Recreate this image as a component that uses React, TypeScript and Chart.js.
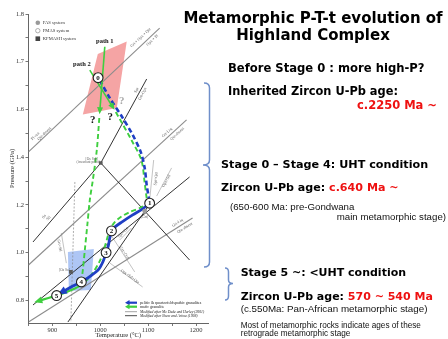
import React, { useEffect, useRef } from "react";
import { Chart, registerables } from "chart.js";

Chart.register(...registerables);

// ---------- axes ----------
const xMin = 850;
const xMax = 1225;
const yMin = 0.705;
const yMax = 2.0;
const xTickValues = [850, 900, 950, 1000, 1050, 1100, 1150, 1200];
const xMajorValues = [900, 1000, 1100, 1200];
const xMajorLabels = ["900", "1000", "1100", "1200"];
const yTickValues = [0.8, 0.9, 1.0, 1.1, 1.2, 1.3, 1.4, 1.5, 1.6, 1.7, 1.8, 1.9, 2.0];
const yMajorValues = [0.8, 1.0, 1.2, 1.4, 1.6, 1.8, 2.0];
const yMajorLabels = ["0.8", "1.0", "1.2", "1.4", "1.6", "1.7", "1.8"];

// ---------- P-T path stages ----------
const stageLabels = ["0", "1", "2", "3", "4", "5"];
const stageT = [995.4, 1103.1, 1023.3, 1012.1, 960.4, 908.75];
const stageP = [1.733, 1.207, 1.091, 1.0, 0.877, 0.82];

// pelitic & quartzofeldspathic granulites (blue)
const blueDashedT = [999, 1019.8, 1046.9, 1067.7, 1084.4, 1092.7, 1096.9, 1101, 1103.1];
const blueDashedP = [1.723, 1.648, 1.564, 1.493, 1.422, 1.355, 1.283, 1.233, 1.207];
const blueSolidT = [1103.1, 1088.5, 1067.7, 1044.8, 1030.2, 1023.3, 1019.8, 1016.7, 1012.1, 1006.2, 996.9, 982.3, 963.5, 942.7, 918.8];
const blueSolidP = [1.207, 1.183, 1.158, 1.128, 1.107, 1.091, 1.061, 1.028, 1.0, 0.965, 0.931, 0.906, 0.881, 0.86, 0.833];

// mafic granulite (green): path 1 and path 2
const path1SolidT = [1009.4, 999];
const path1SolidP = [1.863, 1.594];
const path1DashedT = [997.9, 992.7, 984.4, 978.1, 972.9, 967.7, 963.5, 960.4];
const path1DashedP = [1.564, 1.43, 1.304, 1.2205, 1.116, 1.011, 0.927, 0.877];
const path2SolidT = [978.1, 1026];
const path2SolidP = [1.765, 1.61];
const path2DashedT = [1032.3, 1040.6, 1065, 1085.8, 1092.7, 1096.9, 1100, 1082.3, 1061.5, 1042.7, 1030.2, 1019.8, 1013.5, 1007.3, 999, 984.4, 971.9, 960.4];
const path2DashedP = [1.589, 1.56, 1.472, 1.388, 1.292, 1.229, 1.208, 1.187, 1.17, 1.149, 1.128, 1.095, 1.053, 1.011, 0.965, 0.915, 0.885, 0.8685];
const maficSolidT = [960.4, 946.9, 911.5, 869.8];
const maficSolidP = [0.864, 0.85, 0.822, 0.797];

// fields
const pinkFieldT = [994.8, 1055.2, 1034.4, 963.5];
const pinkFieldP = [1.832, 1.885, 1.606, 1.579];
const blueFieldT = [932.3, 986.5, 980.2, 934.4];
const blueFieldP = [1.003, 1.015, 0.843, 0.839];

// reaction lines [T1, P1, T2, P2]
const greyReactions = [
  [850, 1.422, 1124, 1.941],
  [850, 0.948, 1180.2, 1.556],
  [850, 0.709, 1192.7, 1.145],
];
const blackReactions = [
  [859.4, 1.0445, 1001, 1.3756],
  [1001, 1.3756, 1096.9, 1.7276],
  [1001, 1.3756, 1186.5, 0.969],
  [859.4, 0.7804, 1186.5, 1.317],
  [932.3, 0.709, 1098.9, 1.191],
];
const minorReactions = [
  [1103.1, 1.2205, 1111.5, 1.388],
  [1117.7, 1.237, 1149, 1.355],
  [1019.8, 1.082, 1071.9, 0.919],
  [1019.8, 0.9565, 1088.5, 0.856],
  [1040.6, 1.053, 1065, 1.103],
  [918.6, 1.082, 929, 0.956],
];
const dashedReactions = [[946.9, 1.296, 938.5, 0.709]];

// invariant points
const kfmashT = [1001, 938.5];
const kfmashP = [1.3756, 0.919];
const fasT = [1092.7];
const fasP = [1.174];

// labels
const reactionLabelText = ["Pl-out", "Qtz-absent", "Grt + Opx + Qtz", "Opx + Pl", "Grt-Liq", "Qtz-absent", "Grt-Liq", "Qtz-absent", "Spr", "Grt-Opx", "Sa", "Sil", "Spr+Qtz", "Opx+Sil", "Grt+Crd", "Opx+Sil+Qtz", "Spr+Grt", "Grt+Sil"];
const reactionLabelT = [864, 882.9, 1084.2, 1108.7, 1139.2, 1160.8, 1161.3, 1176.3, 1075.6, 1088.5, 882.3, 891.7, 1116, 1138, 1050, 1062, 1048, 915];
const reactionLabelP = [1.488, 1.498, 1.901, 1.89, 1.503, 1.4975, 1.125, 1.104, 1.68, 1.666, 1.151, 1.144, 1.31, 1.3, 1.0, 0.9, 1.085, 1.03];
const reactionLabelLine = ["g0", "g0", "g0", "g0", "g1", "g1", "g2", "g2", "k1", "k1", "k0", "k0", "m0", "m1", "m2", "m3", "m4", "m5"];
const questionT = [984.4, 1020.8, 1044.8];
const questionP = [1.556, 1.568, 1.633];
const pathLabelText = ["path 1", "path 2"];
const pathLabelT = [1009.4, 961.5];
const pathLabelP = [1.887, 1.79];
const pointNoteText = ["[Os Spr]", "(invariant point)", "[Os Sa]", "(Grt)"];
const pointNoteT = [982, 975, 925, 1092.7];
const pointNoteP = [1.392, 1.378, 0.925, 1.15];

const pts = (T: number[], P: number[]) => T.map((t, i) => ({ x: t, y: P[i] }));
const seg = (s: number[]) => [
  { x: s[0], y: s[1] },
  { x: s[2], y: s[3] },
];

const BLUE = "#1f3fc4";
const GREEN = "#3fcf3f";
const GREY = "#8c8c8c";
const BLACK = "#1c1c1c";
const SERIF = "'Liberation Serif', 'DejaVu Serif', serif";

const arrowPlugin = {
  id: "arrowHeads",
  afterDatasetDraw(chart: any, args: any) {
    const ds: any = chart.data.datasets[args.index];
    if (!ds.arrowSize) return;
    const data = args.meta.data;
    const n = data.length;
    if (n < 2) return;
    const a = data[n - 2];
    const b = data[n - 1];
    const ang = Math.atan2(b.y - a.y, b.x - a.x);
    const s = ds.arrowSize;
    const c = Math.cos(ang);
    const sn = Math.sin(ang);
    const ctx = chart.ctx;
    ctx.save();
    ctx.fillStyle = ds.borderColor;
    ctx.beginPath();
    ctx.moveTo(b.x + c * s * 0.55, b.y + sn * s * 0.55);
    ctx.lineTo(b.x - c * s * 0.6 - sn * s * 0.5, b.y - sn * s * 0.6 + c * s * 0.5);
    ctx.lineTo(b.x - c * s * 0.6 + sn * s * 0.5, b.y - sn * s * 0.6 - c * s * 0.5);
    ctx.closePath();
    ctx.fill();
    ctx.restore();
  },
};

const annotPlugin = {
  id: "annotations",
  afterDatasetsDraw(chart: any) {
    const ctx = chart.ctx;
    const xs = chart.scales.x;
    const ys = chart.scales.y;
    const px = (t: number) => xs.getPixelForValue(t);
    const py = (p: number) => ys.getPixelForValue(p);
    const area = chart.chartArea;
    const lines: Record<string, number[]> = {};
    greyReactions.forEach((s, i) => (lines["g" + i] = s));
    blackReactions.forEach((s, i) => (lines["k" + i] = s));
    minorReactions.forEach((s, i) => (lines["m" + i] = s));
    ctx.save();
    ctx.textAlign = "center";
    ctx.textBaseline = "middle";

    // reaction labels
    reactionLabelText.forEach((txt, i) => {
      const s = lines[reactionLabelLine[i]];
      let ang = Math.atan2(py(s[3]) - py(s[1]), px(s[2]) - px(s[0]));
      if (ang > Math.PI / 2) ang -= Math.PI;
      if (ang < -Math.PI / 2) ang += Math.PI;
      ctx.save();
      ctx.translate(px(reactionLabelT[i]), py(reactionLabelP[i]));
      ctx.rotate(ang);
      ctx.fillStyle = "#555";
      ctx.font = `4px ${SERIF}`;
      ctx.fillText(txt, 0, 0);
      ctx.restore();
    });

    // notes near invariant points
    ctx.fillStyle = "#666";
    ctx.font = `3.6px ${SERIF}`;
    pointNoteText.forEach((txt, i) => {
      ctx.fillText(txt, px(pointNoteT[i]), py(pointNoteP[i]));
    });

    // question marks
    ctx.font = `bold 11px ${SERIF}`;
    questionT.forEach((t, i) => {
      ctx.fillStyle = i === 2 ? "#a8a8a8" : "#111";
      ctx.fillText("?", px(t), py(questionP[i]));
    });

    // path labels
    ctx.fillStyle = "#111";
    ctx.font = `bold 6.5px ${SERIF}`;
    pathLabelText.forEach((txt, i) => ctx.fillText(txt, px(pathLabelT[i]), py(pathLabelP[i])));

    // stage numbers
    const idx = chart.data.datasets.findIndex((d: any) => d.label === "stages");
    const meta = chart.getDatasetMeta(idx);
    ctx.font = `bold 7px ${SERIF}`;
    ctx.fillStyle = "#111";
    meta.data.forEach((pt: any, i: number) => ctx.fillText(stageLabels[i], pt.x, pt.y + 0.3));

    // top-left legend
    const lx = area.left + 9.3;
    const ly = area.top + 8.7;
    ctx.textAlign = "left";
    ctx.font = `4.6px ${SERIF}`;
    ctx.fillStyle = "#999";
    ctx.beginPath();
    ctx.arc(lx, ly, 2.3, 0, Math.PI * 2);
    ctx.fill();
    ctx.strokeStyle = "#999";
    ctx.lineWidth = 0.8;
    ctx.fillStyle = "#fff";
    ctx.beginPath();
    ctx.arc(lx, ly + 8, 2.2, 0, Math.PI * 2);
    ctx.fill();
    ctx.stroke();
    ctx.fillStyle = "#444";
    ctx.fillRect(lx - 2.3, ly + 13.7, 4.6, 4.6);
    ctx.fillStyle = "#333";
    ctx.fillText("FAS system", lx + 5, ly);
    ctx.fillText("FMAS system", lx + 5, ly + 8);
    ctx.fillText("KFMASH system", lx + 5, ly + 16);

    // bottom-right legend
    const bx0 = area.right - 83;
    const bx1 = area.right - 71;
    const tx = area.right - 68;
    const rows = [area.bottom - 20.3, area.bottom - 16.3, area.bottom - 11.3, area.bottom - 7.3];
    const drawArrow = (y: number, col: string, w: number) => {
      ctx.strokeStyle = col;
      ctx.lineWidth = w;
      ctx.beginPath();
      ctx.moveTo(bx1, y);
      ctx.lineTo(bx0 + 3, y);
      ctx.stroke();
      ctx.fillStyle = col;
      ctx.beginPath();
      ctx.moveTo(bx0, y);
      ctx.lineTo(bx0 + 4.5, y - 2.6);
      ctx.lineTo(bx0 + 4.5, y + 2.6);
      ctx.closePath();
      ctx.fill();
    };
    drawArrow(rows[0], BLUE, 2.2);
    drawArrow(rows[1], GREEN, 2.2);
    ctx.lineWidth = 0.8;
    ctx.strokeStyle = GREY;
    ctx.beginPath();
    ctx.moveTo(bx0, rows[2]);
    ctx.lineTo(bx1, rows[2]);
    ctx.stroke();
    ctx.strokeStyle = BLACK;
    ctx.beginPath();
    ctx.moveTo(bx0, rows[3]);
    ctx.lineTo(bx1, rows[3]);
    ctx.stroke();
    ctx.fillStyle = "#222";
    ctx.font = `4px ${SERIF}`;
    ctx.fillText("pelitic & quartzofeldspathic granulites", tx, rows[0]);
    ctx.fillText("mafic granulite", tx, rows[1]);
    ctx.font = `italic 3.7px ${SERIF}`;
    ctx.fillText("Modified after Mc Dade and Harley (2001)", tx, rows[2]);
    ctx.fillText("Modified after Shaw and Arima (1998)", tx, rows[3]);
    ctx.restore();
  },
};

function lineDs(data: any[], color: string, width: number, order: number, extra: any = {}) {
  return {
    data,
    showLine: true,
    borderColor: color,
    backgroundColor: color,
    borderWidth: width,
    pointRadius: 0,
    tension: 0,
    fill: false,
    order,
    ...extra,
  };
}

export default function App() {
  const canvasRef = useRef<HTMLCanvasElement | null>(null);

  useEffect(() => {
    document.body.style.margin = "0";
    const canvas = canvasRef.current;
    if (!canvas) return;
    const datasets: any[] = [];
    datasets.push(lineDs(pts([...pinkFieldT, pinkFieldT[0]], [...pinkFieldP, pinkFieldP[0]]), "rgba(0,0,0,0)", 0, 100, { fill: "shape", backgroundColor: "#f5a4a4" }));
    datasets.push(lineDs(pts([...blueFieldT, blueFieldT[0]], [...blueFieldP, blueFieldP[0]]), "rgba(0,0,0,0)", 0, 99, { fill: "shape", backgroundColor: "rgba(120,160,238,0.6)" }));
    greyReactions.forEach((s) => datasets.push(lineDs(seg(s), GREY, 1.1, 60)));
    minorReactions.forEach((s) => datasets.push(lineDs(seg(s), "#9a9a9a", 0.6, 61)));
    dashedReactions.forEach((s) => datasets.push(lineDs(seg(s), "#8a8a8a", 0.7, 61, { borderDash: [2, 1.5] })));
    blackReactions.forEach((s) => datasets.push(lineDs(seg(s), BLACK, 0.9, 59)));
    datasets.push(lineDs(pts(path1DashedT, path1DashedP), GREEN, 1.9, 20, { borderDash: [5, 3], tension: 0.3 }));
    datasets.push(lineDs(pts(path2DashedT, path2DashedP), GREEN, 1.9, 21, { borderDash: [5, 3], tension: 0.3 }));
    datasets.push(lineDs(pts(blueDashedT, blueDashedP), BLUE, 2.6, 18, { borderDash: [5, 3], tension: 0.3 }));
    datasets.push(lineDs(pts(maficSolidT, maficSolidP), GREEN, 2.2, 12, { arrowSize: 7, tension: 0.2 }));
    datasets.push(lineDs(pts(blueSolidT, blueSolidP), BLUE, 2.8, 10, { arrowSize: 8, tension: 0.3 }));
    datasets.push(lineDs(pts(path1SolidT, path1SolidP), GREEN, 1.6, 11, { arrowSize: 6 }));
    datasets.push(lineDs(pts(path2SolidT, path2SolidP), GREEN, 1.6, 11, { arrowSize: 6 }));
    datasets.push({
      data: pts(kfmashT, kfmashP),
      pointStyle: "rect",
      pointRadius: 2.6,
      backgroundColor: "#5a5a5a",
      borderColor: "#5a5a5a",
      borderWidth: 0,
      order: 2,
    });
    datasets.push({
      data: pts(fasT, fasP),
      pointStyle: "circle",
      pointRadius: 2.4,
      backgroundColor: "#9c9c9c",
      borderColor: "#9c9c9c",
      borderWidth: 0,
      order: 2,
    });
    datasets.push({
      label: "stages",
      data: pts(stageT, stageP),
      pointStyle: "circle",
      pointRadius: 4.9,
      backgroundColor: "#ffffff",
      borderColor: "#222",
      borderWidth: 1.1,
      order: 0,
    });

    const chart = new Chart(canvas, {
      type: "scatter",
      data: { datasets },
      options: {
        animation: false,
        responsive: false,
        maintainAspectRatio: false,
        events: [],
        layout: { padding: { left: 0, top: 14, right: 240, bottom: 0 } },
        plugins: { legend: { display: false }, tooltip: { enabled: false } },
        scales: {
          x: {
            type: "linear",
            min: xMin,
            max: xMax,
            afterBuildTicks: (s: any) => {
              s.ticks = xTickValues.map((v) => ({ value: v }));
            },
            afterFit: (s: any) => {
              s.height = 16;
            },
            ticks: {
              autoSkip: false,
              maxRotation: 0,
              padding: 0,
              color: "#333",
              font: { family: SERIF, size: 6.5 },
              callback: (v: any) => {
                const i = xMajorValues.indexOf(Number(v));
                return i >= 0 ? xMajorLabels[i] : "";
              },
            },
            grid: { drawOnChartArea: false, drawTicks: true, tickLength: 3, color: "#777" },
            border: { color: "#666", width: 1 },
            title: {
              display: true,
              text: "Temperature (°C)",
              color: "#222",
              font: { family: SERIF, size: 6.5 },
              padding: { top: 0, bottom: 0 },
            },
          },
          y: {
            type: "linear",
            min: yMin,
            max: yMax,
            afterBuildTicks: (s: any) => {
              s.ticks = yTickValues.map((v) => ({ value: v }));
            },
            afterFit: (s: any) => {
              s.width = 28.5;
            },
            ticks: {
              autoSkip: false,
              padding: 1.5,
              color: "#333",
              font: { family: SERIF, size: 6.5 },
              callback: (v: any) => {
                const i = yMajorValues.findIndex((m) => Math.abs(m - Number(v)) < 1e-6);
                return i >= 0 ? yMajorLabels[i] : "";
              },
            },
            grid: { drawOnChartArea: false, drawTicks: true, tickLength: 3, color: "#777" },
            border: { color: "#666", width: 1 },
            title: {
              display: true,
              text: "Pressure (GPa)",
              color: "#222",
              font: { family: SERIF, size: 6.5 },
              padding: { top: 8, bottom: 0 },
            },
          },
        },
      } as any,
      plugins: [arrowPlugin, annotPlugin],
    });
    return () => chart.destroy();
  }, []);

  const bold = { fontFamily: "'DejaVu Sans', sans-serif", fontWeight: 700 } as const;
  const reg = { fontFamily: "'Liberation Sans', Arial, sans-serif" } as const;

  return (
    <div style={{ position: "fixed", left: 0, top: 0, width: 448, height: 339, background: "#fff", overflow: "hidden" }}>
      <canvas ref={canvasRef} width={448} height={339} style={{ position: "absolute", left: 0, top: 0, width: 448, height: 339 }} />
      <svg width={448} height={339} style={{ position: "absolute", left: 0, top: 0, pointerEvents: "none" }}>
        <g fill="none" stroke="#6f8fca" strokeWidth={1.5}>
          <path d="M204 83 Q209.5 83 209.5 88 L209.5 160 Q209.5 165 203 165 Q209.5 165 209.5 170 L209.5 262 Q209.5 267 204 267" />
          <path d="M225 268 Q228.5 268 228.5 272 L228.5 280 Q228.5 283.5 233 283.5 Q228.5 283.5 228.5 287 L228.5 296 Q228.5 300 225 300" />
        </g>
        <text x={313} y={22.5} textAnchor="middle" fontSize={15} style={bold} fill="#000">Metamorphic P-T-t evolution of</text>
        <text x={313} y={39.5} textAnchor="middle" fontSize={15} style={bold} fill="#000">Highland Complex</text>
        <text x={228} y={72} fontSize={11.6} style={bold} fill="#000">Before Stage 0 : more high-P?</text>
        <text x={228} y={94.5} fontSize={11.4} style={bold} fill="#000">Inherited Zircon U-Pb age:</text>
        <text x={437} y={108.5} textAnchor="end" fontSize={11.5} style={bold} fill="#ee1111">c.2250 Ma ~</text>
        <text x={221} y={168.3} fontSize={11.2} style={bold} fill="#000">Stage 0 – Stage 4: UHT condition</text>
        <text x={221} y={190.7} fontSize={11.1} style={bold} fill="#000">
          Zircon U-Pb age: <tspan fill="#ee1111">c.640 Ma ~</tspan>
        </text>
        <text x={230} y={210} fontSize={9.7} style={reg} fill="#111">(650-600 Ma: pre-Gondwana</text>
        <text x={446} y={220} textAnchor="end" fontSize={9.7} style={reg} fill="#111">main metamorphic stage)</text>
        <text x={240.7} y={276} fontSize={11} style={bold} fill="#000">Stage 5 ~: &lt;UHT condition</text>
        <text x={240.7} y={300} fontSize={11} style={bold} fill="#000">
          Zircon U-Pb age: <tspan fill="#ee1111">570 ~ 540 Ma</tspan>
        </text>
        <text x={240.7} y={312} fontSize={9.8} style={reg} fill="#111">(c.550Ma: Pan-African metamorphic stage)</text>
        <text x={240.7} y={327.5} fontSize={8.2} style={reg} fill="#111">Most of metamorphic rocks indicate ages of these</text>
        <text x={240.7} y={336} fontSize={8.2} style={reg} fill="#111">retrograde metamorphic stage</text>
      </svg>
    </div>
  );
}
